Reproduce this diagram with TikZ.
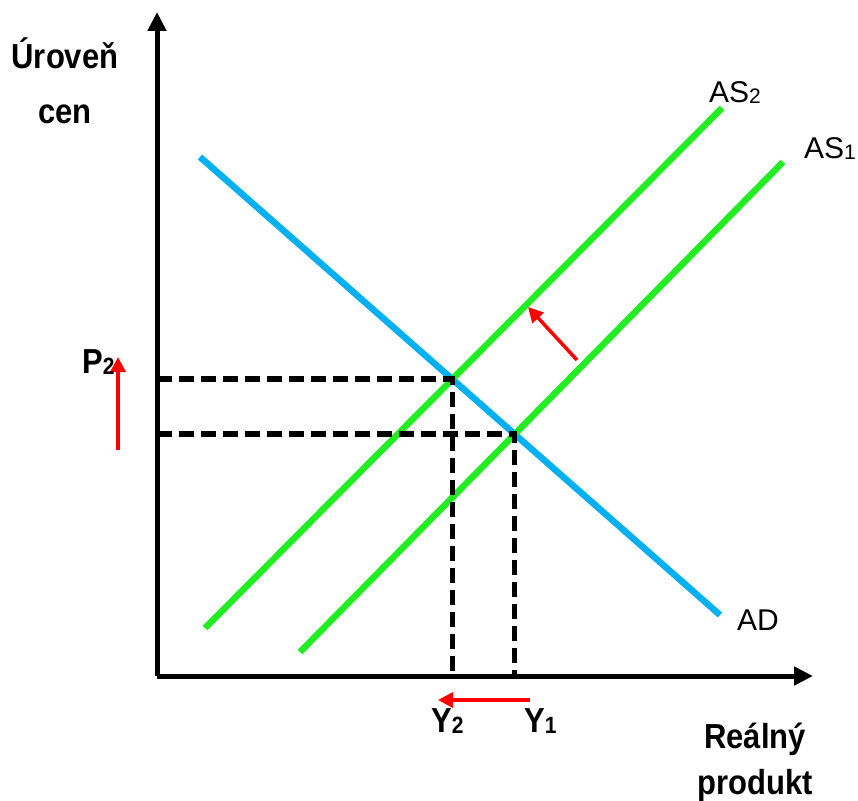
\documentclass[tikz,border=0pt]{standalone}
\usepackage{graphicx}
\usepackage{fontspec}
\setmainfont{Liberation Sans}
\usetikzlibrary{arrows.meta,intersections}
\definecolor{asgreen}{RGB}{34,236,34}
\definecolor{adblue}{RGB}{0,176,240}
\newcommand{\tallbf}[1]{\scalebox{1}[1.12]{\bfseries #1}}
\newcommand{\lowidx}[1]{\raisebox{-1.5pt}{\fontsize{21}{24}\selectfont #1}}
\tikzset{
  axis/.style={line width=5pt, -{Triangle[length=19pt,width=18pt]}},
  curve/.style={line width=6.5pt},
  guide/.style={line width=5.5pt, dash pattern=on 15pt off 7pt},
  movearr/.style={red, line width=3.5pt, -{Triangle[length=15pt,width=15pt]}},
  lbl/.style={font=\fontsize{30}{36}\selectfont, inner sep=0pt},
  blbl/.style={font=\fontsize{31}{38}\selectfont, inner sep=0pt},
}

\begin{document}
\begin{tikzpicture}[x=1pt,y=-1pt]
    \useasboundingbox (0,0) rectangle (858,800);
    % axes
    \coordinate (O) at (157,676);
    \coordinate (ytip) at (157,12);
    \coordinate (xtip) at (813,676);
    \draw[axis] (O) -- (ytip);
    \draw[axis] (O) -- (xtip);
    % curves
    \coordinate (ad0) at (200,157);  \coordinate (ad1) at (720,615);
    \coordinate (asa0) at (300,652); \coordinate (asa1) at (783,162);
    \coordinate (asb0) at (205,628); \coordinate (asb1) at (722,108);
    \draw[curve,adblue,name path=ad] (ad0) -- (ad1);
    \draw[curve,asgreen,name path=as1] (asa0) -- (asa1);
    \draw[curve,asgreen,name path=as2] (asb0) -- (asb1);
    \path[name intersections={of=ad and as1,by=e1}];
    \path[name intersections={of=ad and as2,by=e2}];
    % equilibrium guides
    \draw[guide] (e2 -| O) -- (e2) -- (e2 |- O);
    \draw[guide] (e1 -| O) -- (e1) -- (e1 |- O);
    % shifts
    \coordinate (pa) at (118,450); \coordinate (pb) at (118,357);
    \coordinate (ya) at (530,700); \coordinate (yb) at (438,700);
    \coordinate (sa) at (577,360); \coordinate (sb) at (528,307);
    \draw[movearr] (pa) -- (pb);
    \draw[movearr] (ya) -- (yb);
    \draw[movearr] (sa) -- (sb);
    % labels
    \node[blbl,anchor=base] (ylab1) at (65,68)  {\tallbf{Úroveň}};
    \node[blbl,anchor=base] (ylab2) at (65,123) {\tallbf{cen}};
    \node[blbl,anchor=base] (xlab1) at (755,748) {\tallbf{Reálný}};
    \node[blbl,anchor=base] (xlab2) at (755,794) {\tallbf{produkt}};
    \node[lbl,anchor=base west] (as2lab) at (709,102) {AS\lowidx{2}};
    \node[lbl,anchor=base west] (as1lab) at (804,158) {AS\lowidx{1}};
    \node[lbl,anchor=base west] (adlab) at (737,630) {AD};
    \node[blbl,anchor=base west] (p2lab) at (82,373) {\tallbf{P\lowidx{2}}};
    \node[blbl,anchor=base west] (y2lab) at (431,732) {\tallbf{Y\lowidx{2}}};
    \node[blbl,anchor=base west] (y1lab) at (524,732) {\tallbf{Y\lowidx{1}}};
  \end{tikzpicture}
\end{document}
